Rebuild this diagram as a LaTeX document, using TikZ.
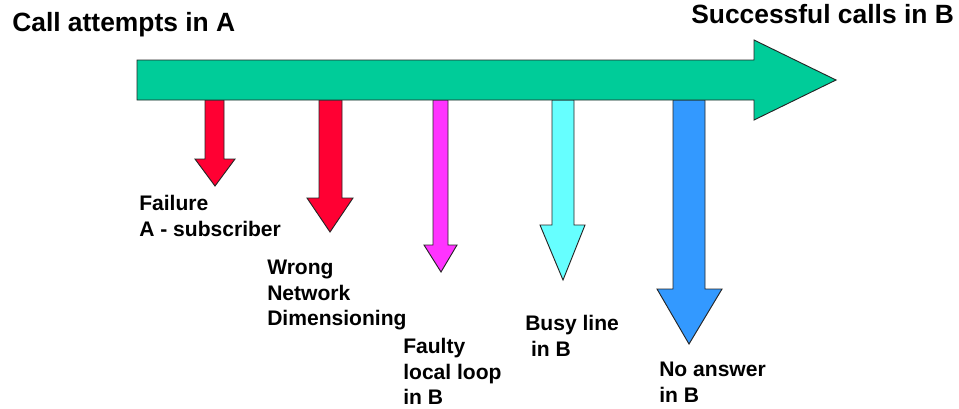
\documentclass[tikz,border=0pt]{standalone}
\usepackage{fontspec}
\setmainfont{Liberation Sans}
\definecolor{mainarrow}{HTML}{00CC99}
\definecolor{redarrow}{HTML}{FF0033}
\definecolor{magarrow}{HTML}{FF33FF}
\definecolor{cyanarrow}{HTML}{66FFFF}
\definecolor{bluearrow}{HTML}{3399FF}
\tikzset{
  px/.style={x=0.75pt,y=-0.75pt},
  shapeline/.style={draw=black!85,line width=0.7pt,line join=miter},
  title/.style={anchor=base west,inner sep=0pt,font=\fontsize{19.8pt}{23pt}\selectfont\bfseries},
  label/.style={anchor=north west,inner sep=0pt,align=left,font=\fontsize{15.8pt}{19.1pt}\selectfont\bfseries},
}
% #1 colour, #2 shaft left, #3 shaft right, #4 head top y, #5 head left, #6 head right, #7 tip x, #8 tip y
\newcommand\downarrowshape[8]{%
  \filldraw[shapeline,fill=#1] (#2,100) -- (#3,100) -- (#3,#4) -- (#6,#4) -- (#7,#8) -- (#5,#4) -- (#2,#4) -- cycle;}
\begin{document}
\begin{tikzpicture}[px]
\useasboundingbox (0,0) rectangle (959,408);
% down arrows
\downarrowshape{redarrow}{205}{224}{159}{195}{235}{215}{186}
\downarrowshape{redarrow}{319}{342}{198}{307}{353}{330}{232}
\downarrowshape{magarrow}{433}{448}{245}{424}{457}{441}{272}
\downarrowshape{cyanarrow}{552}{574}{225}{540}{585}{563}{280}
\downarrowshape{bluearrow}{673}{705}{289}{657}{722}{689}{344}
% main arrow
\filldraw[shapeline,fill=mainarrow] (137,60) -- (754,60) -- (754,40) -- (836,80) -- (754,120) -- (754,100) -- (137,100) -- cycle;
% titles
\node[title] (tA) at (12,31) {Call attempts in A};
\node[title] (tB) at (691,23) {Successful calls in B};
% labels
\node[label] (l1) at (139,195) {Failure\\A - subscriber};
\node[label] (l2) at (267,260) {Wrong\\Network\\Dimensioning};
\node[label] (l3) at (403,338) {Faulty\\local loop\\in B};
\node[label] (l4) at (525,315) {Busy line\\\ in B};
\node[label] (l5) at (659,362) {No answer\\in B};
\end{tikzpicture}
\end{document}
